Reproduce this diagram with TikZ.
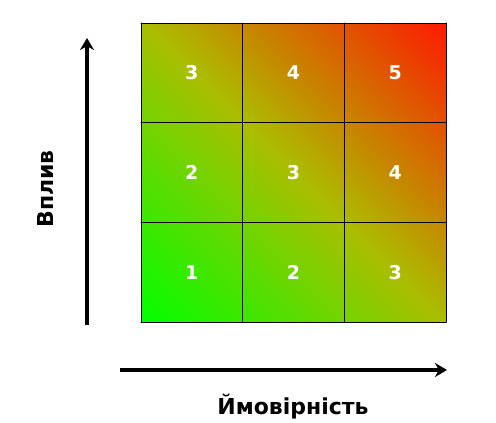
\documentclass[tikz,border=0pt]{standalone}
\usepackage{fontspec}
\setmainfont{DejaVu Sans}
\usetikzlibrary{arrows.meta}
\begin{document}
\begin{tikzpicture}[x=1pt,y=-1pt,>={Stealth[length=12pt,width=14pt]}, line join=round, line cap=round]
	\useasboundingbox (0,0) rectangle (496,423);
	\def\gx{141} \def\gy{23} % top-left corner of the grid
	\def\cw{101.7} \def\ch{99.7} % cell size
	\tikzset{num/.style={text=white, font=\fontsize{19}{19}\selectfont\bfseries},
		axlabel/.style={font=\fontsize{22}{22}\selectfont\bfseries}}
	\definecolor{mid}{RGB}{170,190,0}
	\definecolor{bl}{RGB}{0,255,0}
	\definecolor{tr}{RGB}{255,25,0}
	\coordinate (mc) at (\gx+1.5*\cw,\gy+1.5*\ch);
	\begin{scope}
		\clip (\gx,\gy) rectangle (\gx+3*\cw,\gy+3*\ch);
		\shade[left color=bl, right color=tr, middle color=mid,
			transform canvas={rotate around={45:(mc)}}]
			([shift={(-214,-214)}]mc) rectangle ([shift={(214,214)}]mc);
	\end{scope}
	\foreach \i in {0,...,3}{
		\draw[line width=1pt] (\gx+\i*\cw,\gy)--(\gx+\i*\cw,\gy+3*\ch);
		\draw[line width=1pt] (\gx,\gy+\i*\ch)--(\gx+3*\cw,\gy+\i*\ch);
	}
	\foreach \c in {0,1,2}
		\foreach \r in {0,1,2}{
			\pgfmathtruncatemacro\v{\c+\r+1}
			\node[num] (n\c\r) at (\gx+\c*\cw+0.5*\cw,\gy+3*\ch-\r*\ch-0.5*\ch) {\v};
		}
	% axes
	\coordinate (y0) at (87,325); \coordinate (y1) at (87,38);
	\coordinate (x0) at (120,370); \coordinate (x1) at (447,370);
	\draw[->, line width=3.5pt, line cap=butt] (y0)--(y1);
	\draw[->, line width=3.5pt, line cap=butt] (x0)--(x1);
	\node[axlabel, rotate=90] (vplyv) at (45,189) {Вплив};
	\node[axlabel] (ymov) at (293,407) {Ймовірність};
\end{tikzpicture}
\end{document}
